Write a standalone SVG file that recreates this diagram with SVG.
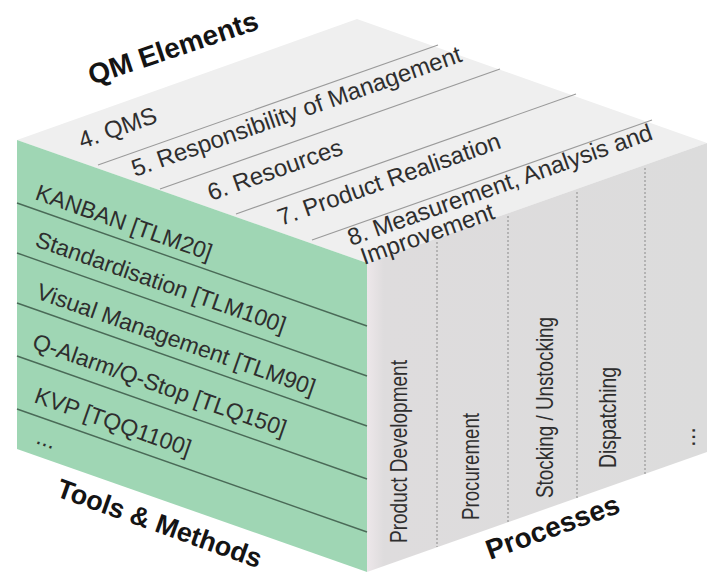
<svg xmlns="http://www.w3.org/2000/svg" width="707" height="576" viewBox="0 0 707 576">
  <style>
    .t { font-family: "Liberation Sans", Arial, sans-serif; fill: #2e2e2e; }
    .top { font-size: 24px; }
    .grn { font-size: 23px; }
    .proc { font-size: 24px; }
    .lbl { font-family: "Liberation Sans", Arial, sans-serif; font-weight: bold; fill: #141414; }
    .strip { stroke: #9a9a9a; stroke-width: 1.1; fill: none; }
    .gline { stroke: #4a6a57; stroke-width: 1.4; fill: none; }
    .dot { stroke: #8a8a8a; stroke-width: 1; stroke-dasharray: 2 2; fill: none; }
  </style>
  <defs>
    <linearGradient id="rf" x1="367" y1="0" x2="707" y2="0" gradientUnits="userSpaceOnUse">
      <stop offset="0" stop-color="#ede7ea"/>
      <stop offset="0.05" stop-color="#dedcdd"/>
      <stop offset="1" stop-color="#dcdcdc"/>
    </linearGradient>
  </defs>
  <rect x="0" y="0" width="707" height="576" fill="#ffffff"/>

  <g id="top-face">
    <polygon points="17,140 357,19 707,143 367,263" fill="#efefef"/>
    <line class="strip" x1="98" y1="165" x2="438" y2="45"/>
    <line class="strip" x1="160" y1="189" x2="500" y2="69"/>
    <line class="strip" x1="236" y1="214" x2="576" y2="94"/>
    <line class="strip" x1="312" y1="240" x2="652" y2="120"/>
  </g>

  <g id="right-face">
    <polygon points="367,263 707,143 707,452 367,572" fill="url(#rf)"/>
    <line class="dot" x1="437" y1="242" x2="437" y2="547"/>
    <line class="dot" x1="508" y1="216" x2="508" y2="522"/>
    <line class="dot" x1="577" y1="192" x2="577" y2="498"/>
    <line class="dot" x1="645" y1="168" x2="645" y2="474"/>
  </g>

  <g id="left-face">
    <polygon points="17,140 367,263 367,572 17,449" fill="#9fd6b4"/>
    <line class="gline" x1="17" y1="203" x2="367" y2="326"/>
    <line class="gline" x1="17" y1="253" x2="367" y2="376"/>
    <line class="gline" x1="17" y1="303" x2="367" y2="426"/>
    <line class="gline" x1="17" y1="356" x2="367" y2="479"/>
    <line class="gline" x1="17" y1="409" x2="367" y2="532"/>
  </g>

  <g id="qm-elements">
    <text class="t top" transform="translate(82,149) rotate(-19.45)">4. QMS</text>
    <text class="t top" transform="translate(135,177) rotate(-19.45)">5. Responsibility of Management</text>
    <text class="t top" transform="translate(211,201) rotate(-19.45)">6. Resources</text>
    <text class="t top" transform="translate(281,226) rotate(-19.45)">7. Product Realisation</text>
    <text class="t top" transform="translate(351,246) rotate(-19.45)">8. Measurement, Analysis and</text>
    <text class="t top" transform="translate(364,265) rotate(-19.45)">Improvement</text>
  </g>

  <g id="tools-methods">
    <text class="t grn" transform="translate(34,199) rotate(19.4)">KANBAN [TLM20]</text>
    <text class="t grn" transform="translate(34,246) rotate(19.4)">Standardisation [TLM100]</text>
    <text class="t grn" transform="translate(35,298) rotate(19.4)">Visual Management [TLM90]</text>
    <text class="t grn" transform="translate(31,348) rotate(19.4)">Q-Alarm/Q-Stop [TLQ150]</text>
    <text class="t grn" transform="translate(33,402) rotate(19.4)">KVP [TQQ1100]</text>
    <text class="t grn" transform="translate(35,443) rotate(19.4)">...</text>
  </g>

  <g id="processes">
    <text class="t proc" transform="translate(407,543) rotate(-90)" textLength="183" lengthAdjust="spacingAndGlyphs">Product Development</text>
    <text class="t proc" transform="translate(479,520) rotate(-90)" textLength="107" lengthAdjust="spacingAndGlyphs">Procurement</text>
    <text class="t proc" transform="translate(553,498) rotate(-90)" textLength="181" lengthAdjust="spacingAndGlyphs">Stocking / Unstocking</text>
    <text class="t proc" transform="translate(616,468) rotate(-90)" textLength="101" lengthAdjust="spacingAndGlyphs">Dispatching</text>
    <text class="t proc" transform="translate(695,447) rotate(-90)">...</text>
  </g>

  <g id="labels">
    <text class="lbl" font-size="28" transform="translate(92,85) rotate(-18.5)">QM Elements</text>
    <text class="lbl" font-size="27" transform="translate(55,496) rotate(19.6)">Tools &amp; Methods</text>
    <text class="lbl" font-size="28" transform="translate(490,560) rotate(-20)">Processes</text>
  </g>
</svg>
